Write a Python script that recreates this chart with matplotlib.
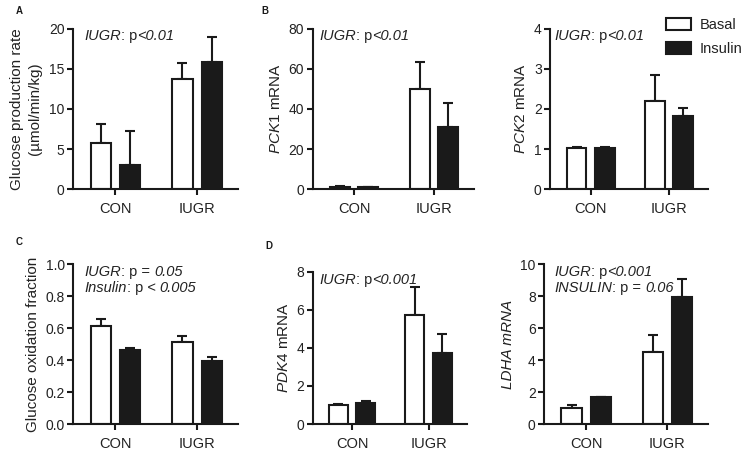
import matplotlib
matplotlib.use("Agg")
import matplotlib.pyplot as plt
from matplotlib.patches import Patch
import numpy as np

plt.rcParams['font.family'] = ['Liberation Sans', 'DejaVu Sans']
plt.rcParams['mathtext.fontset'] = 'custom'
plt.rcParams['mathtext.rm'] = 'Liberation Sans'
plt.rcParams['mathtext.it'] = 'Liberation Sans:italic'

groups = ["CON", "IUGR"]

gpr_basal = [5.8, 13.8]
gpr_basal_err = [2.3, 1.9]
gpr_ins = [3.0, 15.9]
gpr_ins_err = [4.2, 3.1]

pck1_basal = [1.2, 50.0]
pck1_basal_err = [0.3, 13.3]
pck1_ins = [1.0, 31.0]
pck1_ins_err = [0.2, 12.0]

pck2_basal = [1.02, 2.2]
pck2_basal_err = [0.04, 0.65]
pck2_ins = [1.02, 1.83]
pck2_ins_err = [0.04, 0.19]

gox_basal = [0.615, 0.515]
gox_basal_err = [0.04, 0.035]
gox_ins = [0.46, 0.395]
gox_ins_err = [0.015, 0.025]

pdk4_basal = [1.0, 5.75]
pdk4_basal_err = [0.05, 1.45]
pdk4_ins = [1.1, 3.75]
pdk4_ins_err = [0.1, 1.0]

ldha_basal = [1.0, 4.55]
ldha_basal_err = [0.18, 1.05]
ldha_ins = [1.68, 7.95]
ldha_ins_err = [0.02, 1.15]

W, H = 751, 455
fig = plt.figure(figsize=(W / 100, H / 100), dpi=100)


def make_ax(left, right, top, bottom):
    return fig.add_axes([left / W, 1 - bottom / H, (right - left) / W, (bottom - top) / H])


LW = 1.5
BW = 0.25
OFF = 0.18
INK = '#1a1a1a'


def draw_panel(ax, basal, basal_err, ins, ins_err, ylim, yticks, yticklabels):
    x = np.arange(len(groups))
    for xs, vals, errs, fc in [(x - OFF, basal, basal_err, 'white'), (x + OFF, ins, ins_err, INK)]:
        ax.bar(xs, vals, width=BW, color=fc, edgecolor=INK, linewidth=LW, zorder=2)
        ax.errorbar(xs, vals, yerr=[np.zeros(len(vals)), errs], fmt='none', ecolor=INK,
                    elinewidth=LW, capsize=3.6, capthick=LW, zorder=1)
    ax.set_xlim(-0.52, 1.5)
    ax.set_ylim(*ylim)
    ax.set_yticks(yticks)
    ax.set_yticklabels(yticklabels)
    ax.set_xticks(x)
    ax.set_xticklabels(groups)
    for s in ['top', 'right']:
        ax.spines[s].set_visible(False)
    for s in ['left', 'bottom']:
        ax.spines[s].set_linewidth(LW)
        ax.spines[s].set_color(INK)
    ax.tick_params(axis='both', width=LW, length=4, color=INK, labelcolor='#222222')
    ax.tick_params(axis='y', labelsize=10, pad=2)
    ax.tick_params(axis='x', labelsize=10.5, pad=5)


def rich_text(ax, x, y, parts, fs=10.5):
    prev = None
    for txt, italic in parts:
        style = 'italic' if italic else 'normal'
        if prev is None:
            prev = ax.text(x, y, txt, transform=ax.transAxes, fontsize=fs, style=style,
                           va='center', ha='left', color='#222222')
        else:
            prev = ax.annotate(txt, xy=(1, 0.5), xycoords=prev, fontsize=fs, style=style,
                               va='center', ha='left', color='#222222')


# Panel A
axA = make_ax(73, 238, 29, 189)
draw_panel(axA, gpr_basal, gpr_basal_err, gpr_ins, gpr_ins_err, (0, 20), [0, 5, 10, 15, 20],
           ['0', '5', '10', '15', '20'])
axA.set_ylabel("Glucose production rate\n(µmol/min/kg)", fontsize=11, labelpad=5, linespacing=1.35,
               color='#222222')
rich_text(axA, 0.068, 0.956, [("IUGR", True), (": p", False), ("<0.01", True)])

# Panel B - PCK1
axB = make_ax(312.5, 474, 29, 189)
draw_panel(axB, pck1_basal, pck1_basal_err, pck1_ins, pck1_ins_err, (0, 80), [0, 20, 40, 60, 80],
           ['0', '20', '40', '60', '80'])
axB.set_ylabel(r"$\mathit{PCK1}$ mRNA", fontsize=11, labelpad=4, color='#222222')
rich_text(axB, 0.042, 0.956, [("IUGR", True), (": p", False), ("<0.01", True)])

# Panel B - PCK2
axB2 = make_ax(550, 708, 29, 189)
draw_panel(axB2, pck2_basal, pck2_basal_err, pck2_ins, pck2_ins_err, (0, 4), [0, 1, 2, 3, 4],
           ['0', '1', '2', '3', '4'])
axB2.set_ylabel(r"$\mathit{PCK2}$ mRNA", fontsize=11, labelpad=4, color='#222222')
rich_text(axB2, 0.028, 0.956, [("IUGR", True), (": p", False), ("<0.01", True)])

handles = [Patch(facecolor='white', edgecolor=INK, linewidth=LW),
           Patch(facecolor=INK, edgecolor=INK, linewidth=LW)]
fig.legend(handles, ["Basal", "Insulin"], loc='upper left', bbox_to_anchor=(666 / W, 1 - 18 / H),
           frameon=False, fontsize=10.5, handlelength=1.7, handleheight=0.9, handletextpad=0.6,
           labelspacing=0.7, borderpad=0, borderaxespad=0, labelcolor='#222222')

# Panel C
axC = make_ax(73, 238, 264, 424)
draw_panel(axC, gox_basal, gox_basal_err, gox_ins, gox_ins_err, (0, 1.0),
           [0, 0.2, 0.4, 0.6, 0.8, 1.0], ['0.0', '0.2', '0.4', '0.6', '0.8', '1.0'])
axC.set_ylabel("Glucose oxidation fraction", fontsize=11, labelpad=4, color='#222222')
rich_text(axC, 0.068, 0.952, [("IUGR", True), (": p = ", False), ("0.05", True)])
rich_text(axC, 0.068, 0.85, [("Insulin", True), (": p < ", False), ("0.005", True)])

# Panel D - PDK4
axD = make_ax(312.5, 466.7, 271.7, 424)
draw_panel(axD, pdk4_basal, pdk4_basal_err, pdk4_ins, pdk4_ins_err, (0, 8), [0, 2, 4, 6, 8],
           ['0', '2', '4', '6', '8'])
axD.set_ylabel(r"$\mathit{PDK4}$ mRNA", fontsize=11, labelpad=4, color='#222222')
rich_text(axD, 0.044, 0.945, [("IUGR", True), (": p", False), ("<0.001", True)])

# Panel D - LDHA
axD2 = make_ax(544, 708, 264.3, 424.3)
draw_panel(axD2, ldha_basal, ldha_basal_err, ldha_ins, ldha_ins_err, (0, 10), [0, 2, 4, 6, 8, 10],
           ['0', '2', '4', '6', '8', '10'])
axD2.set_ylabel("LDHA mRNA", fontsize=11, labelpad=4, style='italic', color='#222222')
rich_text(axD2, 0.062, 0.952, [("IUGR", True), (": p", False), ("<0.001", True)])
rich_text(axD2, 0.062, 0.852, [("INSULIN", True), (": p = ", False), ("0.06", True)])

# Panel letters
for lbl, px, py in [("A", 19, 11), ("B", 265, 11), ("C", 19, 242), ("D", 269, 246)]:
    fig.text(px / W, 1 - py / H, lbl, fontsize=7, fontweight='bold', ha='center', va='center',
             color=INK)

fig.savefig("out.png", dpi=100)
